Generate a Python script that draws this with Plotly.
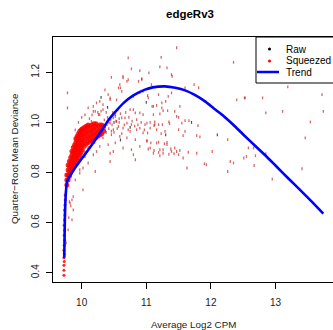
import plotly.graph_objects as go

# ---------------- data ----------------
TITLE = "edgeRv3"
X_LABEL = "Average Log2 CPM"
Y_LABEL = "Quarter\u2212Root Mean Deviance"
X_TICKS = [10, 11, 12, 13]
Y_TICKS = [0.4, 0.6, 0.8, 1.0, 1.2]
Y_TICK_TEXT = ["0.4", "0.6", "0.8", "1.0", "1.2"]

# trend (blue line)
TREND_X = [9.73, 9.74, 9.755, 9.775, 9.87, 10.0, 10.1, 10.21, 10.3, 10.41, 10.52,
           10.65, 10.8, 10.98, 11.1, 11.29, 11.45, 11.6, 11.75, 11.91, 12.05, 12.2,
           12.35, 12.5, 12.7, 12.86, 13.0, 13.2, 13.38, 13.55, 13.74]
TREND_Y = [0.46, 0.62, 0.72, 0.765, 0.808, 0.855, 0.89, 0.93, 0.965, 1.008, 1.042,
           1.078, 1.108, 1.131, 1.14, 1.144, 1.138, 1.128, 1.11, 1.084, 1.055, 1.025,
           0.99, 0.952, 0.903, 0.864, 0.828, 0.776, 0.731, 0.687, 0.636]

# squeezed, scattered points
SQ_X = [10.72, 10.77, 10.90, 10.46, 10.64, 10.93, 9.78, 9.78, 10.36, 10.44, 10.54, 10.60,
        10.70, 10.23, 10.33, 10.18, 10.10, 10.28, 10.83, 10.90, 10.75, 10.52, 10.67, 10.85,
        11.47, 11.23, 11.21, 11.32, 11.04, 11.40, 12.35, 11.74, 11.81, 11.60, 11.02, 11.39,
        11.30, 11.16, 11.09, 11.52, 11.26, 11.33, 12.40, 12.52, 11.50, 11.21, 11.13, 11.60,
        11.35, 11.01, 11.06, 11.12, 11.19, 11.25, 11.36, 11.55, 11.66, 11.80, 11.02, 11.16,
        11.29, 11.50, 11.60, 11.23, 11.57, 11.78, 11.83, 12.26, 11.01, 11.07, 11.19, 11.28,
        11.32, 11.03, 11.12, 11.26, 11.38, 11.44, 11.52, 11.19, 11.26, 11.35, 11.43, 11.65,
        11.78, 12.02, 11.21, 11.57, 11.90, 11.93, 12.30, 12.35, 12.51, 11.63, 12.26,
        13.19, 13.72, 12.53, 12.80, 12.85, 13.11, 13.74, 13.54, 13.46, 12.58, 12.55, 12.69,
        12.85, 12.67, 13.41, 12.95, 12.66,
        11.47, 10.83, 10.44, 10.21, 10.10, 10.05, 10.02, 9.97, 10.49,
        10.18, 10.21, 10.26, 10.15, 10.33, 10.28, 10.41, 10.44, 10.57, 10.62, 10.64, 10.59,
        10.72, 10.88, 10.93, 11.03, 11.11, 11.24, 11.39, 11.34, 11.44, 11.47, 10.49, 10.54,
        10.62, 10.70, 10.77, 10.85, 10.90, 10.98, 11.06, 11.13, 10.95, 10.75, 10.64, 10.57,
        10.49, 10.46, 10.59, 10.70, 10.83, 11.01, 11.16, 11.21, 11.32, 11.39, 11.06, 10.90,
        10.77, 10.64, 10.52, 10.41, 10.33, 10.28, 10.23, 10.18, 10.15, 10.44, 10.80, 11.11,
        11.50, 10.39, 10.36, 10.44, 10.52, 10.80, 10.95, 11.11, 11.24, 10.95, 10.80, 11.08,
        11.19,
        9.82, 9.87, 9.85, 9.79, 9.76, 9.81, 9.83, 9.87, 9.90, 9.97, 10.02, 9.85, 9.80,
        9.95, 10.00, 10.05, 10.12, 9.90, 10.16, 10.25, 10.30, 10.38, 10.40, 10.45, 10.35,
        10.38, 10.42, 10.47, 10.50, 10.55, 10.58, 10.62, 10.66, 10.72, 10.78, 10.82, 10.87,
        10.92, 10.97, 10.48, 10.56, 10.60, 10.68, 10.73,
        10.10, 10.20, 10.05, 9.95, 10.36, 10.42, 10.53, 10.31, 10.46, 10.58]
SQ_Y = [1.258, 1.214, 1.207, 1.180, 1.184, 1.175, 1.118, 1.058, 1.130, 1.098, 1.090, 1.138,
        1.164, 1.078, 1.071, 1.044, 1.058, 1.031, 1.038, 1.038, 1.051, 1.024, 1.018, 1.011,
        1.298, 1.260, 1.222, 1.218, 1.198, 1.184, 1.240, 1.151, 1.138, 1.138, 1.107, 1.118,
        1.084, 1.068, 1.064, 1.064, 1.047, 1.047, 1.090, 1.098, 1.020, 1.034, 1.002, 1.007,
        1.002, 0.997, 1.000, 0.987, 0.991, 0.991, 0.995, 0.997, 1.007, 0.987, 0.958, 0.971,
        0.964, 0.971, 0.964, 0.955, 0.947, 0.947, 0.942, 0.931, 0.928, 0.918, 0.921, 0.915,
        0.920, 0.894, 0.888, 0.891, 0.894, 0.898, 0.888, 0.880, 0.877, 0.873, 0.875, 0.881,
        0.877, 0.884, 0.867, 0.858, 0.835, 0.831, 0.844, 0.838, 0.858, 0.818, 0.804,
        1.142, 1.111, 1.098, 1.098, 1.038, 1.044, 1.044, 1.002, 0.938, 0.898, 0.864, 0.867,
        0.875, 0.828, 0.815, 0.774, 0.898,
        0.884, 0.851, 0.844, 0.804, 0.838, 0.864, 0.818, 0.798, 0.884,
        1.064, 1.044, 1.031, 1.004, 1.051, 1.084, 1.111, 1.091, 1.138, 1.124, 1.178, 1.151,
        1.171, 1.164, 1.171, 1.098, 1.064, 1.058, 1.191, 1.104, 1.044, 1.024, 1.018, 1.004,
        1.018, 0.997, 0.991, 0.971, 0.977, 0.991, 0.977, 0.991, 0.958, 0.964, 0.977, 0.984,
        0.971, 0.951, 0.944, 0.938, 0.931, 0.924, 0.918, 0.891, 0.911, 0.884, 0.898, 0.904,
        0.891, 0.898, 0.918, 0.911, 0.938, 0.904, 0.884, 0.871, 0.924, 0.877, 0.871, 0.877,
        0.871, 0.991, 0.971, 0.997, 1.031, 1.051, 1.031, 1.031, 1.078, 1.124, 1.104, 1.151,
        1.111,
        0.678, 0.651, 0.611, 0.571, 0.519, 0.684, 0.667, 0.704, 0.771, 0.811, 0.731, 0.691,
        0.620,
        1.000, 1.020, 1.030, 1.015, 0.970, 1.030, 1.040, 1.045, 1.040, 1.020, 1.010, 1.010,
        0.960, 0.975, 0.990, 0.960, 0.975, 1.000, 0.955, 0.990, 0.970, 1.005, 0.985, 0.990,
        1.000, 0.970, 1.040, 1.050, 1.035, 1.040, 1.020,
        0.900, 0.920, 0.880, 0.850, 0.985, 1.000, 1.005, 0.955, 0.965, 1.015]

# squeezed, dense band (columns of points)
BAND_COL_X = [9.77, 9.79, 9.81, 9.83, 9.85, 9.87, 9.89, 9.91, 9.93, 9.95, 9.97, 9.99,
              10.01, 10.04, 10.07, 10.10, 10.13, 10.16, 10.19, 10.22, 10.25, 10.28,
              10.31, 10.34]
BAND_COL_Y = [
    [0.75, 0.77, 0.79],
    [0.77, 0.79, 0.81, 0.83],
    [0.785, 0.805, 0.825, 0.845],
    [0.80, 0.82, 0.84, 0.86],
    [0.81, 0.83, 0.85, 0.87, 0.885],
    [0.82, 0.84, 0.86, 0.88, 0.90],
    [0.83, 0.85, 0.87, 0.89, 0.91],
    [0.84, 0.86, 0.88, 0.90, 0.92, 0.935],
    [0.85, 0.87, 0.89, 0.91, 0.93, 0.945],
    [0.86, 0.88, 0.90, 0.92, 0.94, 0.955],
    [0.87, 0.89, 0.91, 0.93, 0.95, 0.965],
    [0.88, 0.90, 0.92, 0.94, 0.96, 0.97],
    [0.89, 0.91, 0.93, 0.95, 0.97, 0.975],
    [0.905, 0.925, 0.945, 0.965, 0.98],
    [0.915, 0.935, 0.955, 0.975, 0.985],
    [0.92, 0.94, 0.96, 0.98, 0.99],
    [0.925, 0.945, 0.965, 0.985],
    [0.93, 0.95, 0.97, 0.99],
    [0.935, 0.955, 0.975, 0.995],
    [0.94, 0.96, 0.98, 0.995],
    [0.945, 0.965, 0.985],
    [0.95, 0.97, 0.99],
    [0.955, 0.975, 0.99],
    [0.965, 0.985],
]

# squeezed, tail at low CPM
TAIL_X = [9.725, 9.725, 9.725, 9.73, 9.725, 9.73, 9.725, 9.73, 9.735, 9.73, 9.735,
          9.73, 9.735, 9.74, 9.735, 9.74, 9.745, 9.745]
TAIL_Y = [0.39, 0.41, 0.43, 0.445, 0.46, 0.475, 0.49, 0.51, 0.53, 0.55, 0.57,
          0.59, 0.61, 0.63, 0.65, 0.67, 0.69, 0.71]

# raw (black) points
RAW_X = [10.50, 10.75, 11.00, 10.30, 10.15, 11.30, 10.90, 11.70, 10.60, 9.90, 12.10, 10.40]
RAW_Y = [1.000, 0.980, 1.080, 1.100, 0.960, 0.950, 1.120, 1.000, 0.930, 0.900, 0.950, 1.060]

# ---------------- figure ----------------
W, H = 333, 330
ML, MR, MT, MB = 53, 0, 37, 48
PW, PH = W - ML - MR, H - MT - MB

def px(x):
    return (x - ML) / PW

def py(y):
    return (H - MB - y) / PH

band_x, band_y = [], []
for cx, ys in zip(BAND_COL_X, BAND_COL_Y):
    for v in ys:
        band_x.append(cx)
        band_y.append(v)

FONT = "Liberation Sans, Arial, Helvetica, sans-serif"

fig = go.Figure()
fig.add_trace(go.Scatter(x=RAW_X, y=RAW_Y, mode="markers", name="Raw",
                         marker=dict(symbol="line-ns", size=2, line=dict(width=1.2, color="rgba(0,0,0,0.7)")),
                         showlegend=False, hoverinfo="skip"))
fig.add_trace(go.Scatter(x=SQ_X, y=SQ_Y, mode="markers", name="Squeezed",
                         marker=dict(symbol="line-ns", size=2,
                                     line=dict(width=1.3, color="rgba(195,0,0,0.6)")),
                         showlegend=False, hoverinfo="skip"))
fig.add_trace(go.Scatter(x=band_x, y=band_y, mode="markers", name="Squeezed dense",
                         marker=dict(symbol="circle", size=5, color="#ff0000", opacity=0.85,
                                     line=dict(width=0)),
                         showlegend=False, hoverinfo="skip"))
fig.add_trace(go.Scatter(x=TAIL_X, y=TAIL_Y, mode="markers", name="Squeezed tail",
                         marker=dict(symbol="circle", size=3, color="#ff0000", opacity=0.85,
                                     line=dict(width=0)),
                         showlegend=False, hoverinfo="skip"))
fig.add_trace(go.Scatter(x=TREND_X, y=TREND_Y, mode="lines", name="Trend",
                         line=dict(color="#0000ff", width=2.6, shape="spline", smoothing=0.5),
                         showlegend=False, hoverinfo="skip"))

axis_common = dict(showgrid=False, zeroline=False, showline=True, linecolor="black",
                   linewidth=1, ticks="outside", ticklen=6, tickcolor="black", tickwidth=1,
                   tickfont=dict(family=FONT, size=10, color="#222"))

fig.update_xaxes(range=[9.556, 13.89], tickvals=X_TICKS, ticktext=[str(t) for t in X_TICKS],
                 mirror=True, ticklabelstandoff=5, **axis_common)
fig.update_yaxes(range=[0.363, 1.341], tickvals=Y_TICKS, ticktext=Y_TICK_TEXT,
                 tickangle=-90, mirror=False, ticklabelstandoff=3, **axis_common)

annotations = [
    dict(text="<b>" + TITLE + "</b>", x=px(190), y=py(14), xref="paper", yref="paper",
         showarrow=False, xanchor="center", yanchor="middle",
         font=dict(family=FONT, size=11.5, color="black")),
    dict(text=X_LABEL, x=px(193), y=py(324), xref="paper", yref="paper",
         showarrow=False, xanchor="center", yanchor="middle",
         font=dict(family=FONT, size=9.8, color="#222")),
    dict(text=Y_LABEL, x=px(14), y=py(159), xref="paper", yref="paper", textangle=-90,
         showarrow=False, xanchor="center", yanchor="middle",
         font=dict(family=FONT, size=9.8, color="#222")),
]
legend_items = [("Raw", 49), ("Squeezed", 60.5), ("Trend", 72)]
for label, yy in legend_items:
    annotations.append(dict(text=label, x=px(283.5), y=py(yy), xref="paper", yref="paper",
                            showarrow=False, xanchor="left", yanchor="middle",
                            font=dict(family=FONT, size=10, color="black")))

shapes = [
    dict(type="rect", xref="paper", yref="paper", x0=px(256), x1=px(345), y0=py(83), y1=py(37),
         line=dict(color="black", width=1), fillcolor="white", layer="above"),
    dict(type="circle", xref="paper", yref="paper", x0=px(268), x1=px(271), y0=py(50.5), y1=py(47.5),
         line=dict(width=0), fillcolor="black", layer="above"),
    dict(type="circle", xref="paper", yref="paper", x0=px(268), x1=px(271), y0=py(62.5), y1=py(59.5),
         line=dict(width=0), fillcolor="red", layer="above"),
    dict(type="line", xref="paper", yref="paper", x0=px(257), x1=px(279), y0=py(72), y1=py(72),
         line=dict(color="#0000ff", width=2.5), layer="above"),
]

fig.update_layout(width=W, height=H, margin=dict(l=ML, r=MR, t=MT, b=MB, pad=0),
                  plot_bgcolor="white", paper_bgcolor="white", showlegend=False,
                  annotations=annotations, shapes=shapes,
                  font=dict(family=FONT))

fig.write_html("out.html", config={"displayModeBar": False})
